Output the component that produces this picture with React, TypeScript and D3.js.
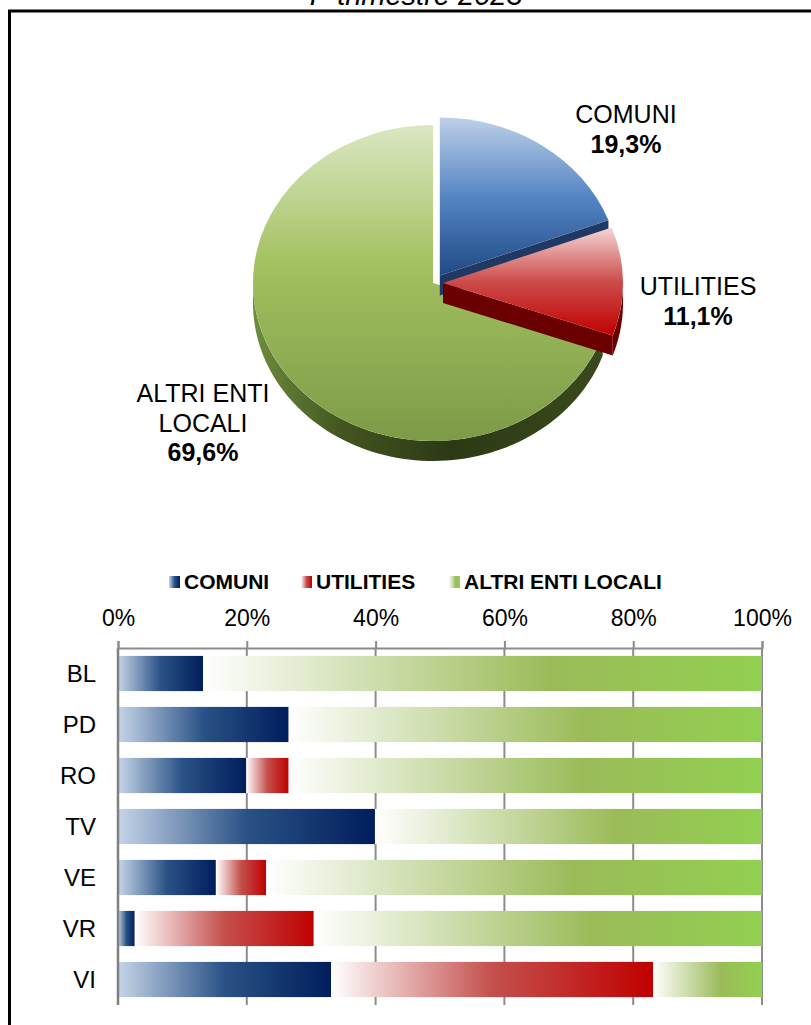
import React, { useEffect, useRef } from 'react';
import * as d3 from 'd3';

// pie: share by type of local entity
const pieLabels = ['COMUNI', 'UTILITIES', 'ALTRI ENTI LOCALI'];
const pieLabelLines = [['COMUNI'], ['UTILITIES'], ['ALTRI ENTI', 'LOCALI']];
const pieValues = [19.3, 11.1, 69.6];

// bars: breakdown per province (%)
const categories = ['BL', 'PD', 'RO', 'TV', 'VE', 'VR', 'VI'];
const comuni = [13.2, 26.5, 19.9, 39.9, 15.2, 2.6, 33.1];
const utilities = [0, 0, 6.6, 0, 7.8, 27.8, 50.0];
const altri = [86.8, 73.5, 73.5, 60.1, 77.0, 69.6, 16.9];
const xTicks = [0, 20, 40, 60, 80, 100];

const FONT = "'Liberation Sans', Arial, sans-serif";

const App: React.FC = () => {
  const svgRef = useRef<SVGSVGElement>(null);

  useEffect(() => {
    if (!svgRef.current) return;
    const svg = d3.select(svgRef.current);
    svg.selectAll('*').remove();

    const defs = svg.append('defs');
    const grad = (id: string, stops: [number, string][], vertical = false) => {
      const g = defs.append('linearGradient').attr('id', id)
        .attr('x1', 0).attr('y1', 0)
        .attr('x2', vertical ? 0 : 1).attr('y2', vertical ? 1 : 0);
      stops.forEach(([o, c]) => g.append('stop').attr('offset', o).attr('stop-color', c));
    };
    // bar fills
    grad('bComuni', [[0, '#c6d5e8'], [0.5, '#2a5286'], [1, '#001d5c']]);
    grad('bUtil', [[0, '#ffffff'], [0.5, '#c4504d'], [1, '#c00000']]);
    grad('bAltri', [[0, '#ffffff'], [0.62, '#9bbb59'], [1, '#92d050']]);
    // pie top faces
    grad('pComuni', [[0, '#bdd0e8'], [0.5, '#5585c4'], [1, '#204a84']], true);
    grad('pUtil', [[0, '#f4d6d6'], [0.5, '#cc4c4a'], [1, '#c00000']], true);
    grad('pAltri', [[0, '#dbe7c2'], [0.45, '#a2c05f'], [1, '#7d9b47']], true);
    // pie side
    const side = defs.append('linearGradient').attr('id', 'pSide')
      .attr('gradientUnits', 'userSpaceOnUse').attr('x1', 250).attr('x2', 615).attr('y1', 0).attr('y2', 0);
    [[0, '#6f8f3f'], [0.25, '#43561f'], [0.55, '#2c3915'], [1, '#3b4b1d']]
      .forEach(([o, c]) => side.append('stop').attr('offset', o as number).attr('stop-color', c as string));

    // frame + title (title is cut by the top edge, as in the source)
    svg.append('text')
      .attr('x', 416).attr('y', 5)
      .attr('text-anchor', 'middle')
      .style('font', `italic 29px ${FONT}`)
      .text('I° trimestre 2023');
    svg.append('rect')
      .attr('x', 9.5).attr('y', 11).attr('width', 900).attr('height', 1100)
      .attr('fill', 'none').attr('stroke', '#000').attr('stroke-width', 3);

    // ---------- 3D pie ----------
    const cx = 433, cy = 283, rx = 180, ry = 158, depth = 20;
    const explode = [12, 10, 0];
    const topFill = ['url(#pComuni)', 'url(#pUtil)', 'url(#pAltri)'];
    const wallFill = ['#1f3864', '#6a0000', '#3b4b1d'];

    const arcs = d3.pie<number>().sort(null).value(d => d)(pieValues);
    const offs = arcs.map((a, i) => {
      const mid = (a.startAngle + a.endAngle) / 2;
      return [explode[i] * Math.sin(mid), -explode[i] * Math.cos(mid) * 0.75];
    });
    const pt = (a: number, ox: number, oy: number, dz = 0): [number, number] =>
      [cx + ox + rx * Math.sin(a), cy + oy - ry * Math.cos(a) + dz];
    const line = d3.line();

    const rim = (a1: number, a2: number, ox: number, oy: number) => {
      const lo = Math.max(a1, Math.PI / 2), hi = Math.min(a2, 1.5 * Math.PI);
      if (hi <= lo) return null;
      const n = 80;
      const top = d3.range(n + 1).map(k => pt(lo + (hi - lo) * k / n, ox, oy));
      const bot = d3.range(n + 1).map(k => pt(hi - (hi - lo) * k / n, ox, oy, depth));
      return line([...top, ...bot]) + 'Z';
    };
    const wall = (a: number, ox: number, oy: number) => {
      const c: [number, number] = [cx + ox, cy + oy];
      return line([c, pt(a, ox, oy), pt(a, ox, oy, depth), [c[0], c[1] + depth]]) + 'Z';
    };

    const pieArc = d3.arc<d3.PieArcDatum<number>>().innerRadius(0).outerRadius(rx);
    const pg = svg.append('g');
    // draw order: big slice, then comuni, then utilities
    [2, 0, 1].forEach(i => {
      const a = arcs[i];
      const [ox, oy] = offs[i];
      const r = rim(a.startAngle, a.endAngle, ox, oy);
      if (i === 2) {
        if (r) pg.append('path').attr('d', r).attr('fill', 'url(#pSide)');
      } else {
        pg.append('path').attr('d', wall(a.endAngle, ox, oy)).attr('fill', wallFill[i]);
        if (r) pg.append('path').attr('d', r).attr('fill', wallFill[i]);
      }
      pg.append('path')
        .attr('d', pieArc(a) as string)
        .attr('transform', `translate(${cx + ox},${cy + oy}) scale(1,${ry / rx})`)
        .attr('fill', topFill[i]);
    });

    const labelPos = [[626, 123], [698, 295], [203, 402]];
    arcs.forEach((a, i) => {
      const t = svg.append('text')
        .attr('text-anchor', 'middle')
        .style('font-family', FONT).style('font-size', '25px');
      const lines = pieLabelLines[i];
      lines.forEach((l, k) => t.append('tspan')
        .attr('x', labelPos[i][0]).attr('y', labelPos[i][1] + k * 29.5).text(l));
      t.append('tspan')
        .attr('x', labelPos[i][0]).attr('y', labelPos[i][1] + lines.length * 29.5)
        .style('font-weight', 'bold')
        .text(d3.format('.1f')(a.data).replace('.', ',') + '%');
    });

    // ---------- stacked bars ----------
    const x = d3.scaleLinear().domain([0, 100]).range([118, 762]);
    const y = d3.scaleBand().domain(categories).range([648, 1005]).paddingInner(0.31).paddingOuter(0.155);
    const rows = categories.map((c, i) => ({ cat: c, comuni: comuni[i], utilities: utilities[i], altri: altri[i] }));
    const keys = ['comuni', 'utilities', 'altri'];
    const barFill: Record<string, string> = { comuni: 'url(#bComuni)', utilities: 'url(#bUtil)', altri: 'url(#bAltri)' };
    const series = d3.stack<any>().keys(keys)(rows);

    const bg = svg.append('g');
    // gridlines
    bg.selectAll('line.grid').data(xTicks.slice(1)).join('line')
      .attr('x1', d => x(d)).attr('x2', d => x(d))
      .attr('y1', 648).attr('y2', 1005)
      .attr('stroke', '#8c8c8c').attr('stroke-width', 2);

    series.forEach(s => {
      bg.append('g').selectAll('rect')
        .data(s.filter(d => d[1] - d[0] > 0))
        .join('rect')
        .attr('x', d => x(d[0]))
        .attr('width', d => x(d[1]) - x(d[0]))
        .attr('y', d => y(d.data.cat) as number)
        .attr('height', y.bandwidth())
        .attr('fill', barFill[s.key]);
    });

    // left axis line
    bg.append('line').attr('x1', x(0)).attr('x2', x(0)).attr('y1', 648).attr('y2', 1005)
      .attr('stroke', '#808080').attr('stroke-width', 2.5);

    const ax = svg.append('g').attr('transform', 'translate(0,648)')
      .call(d3.axisTop(x).tickValues(xTicks).tickFormat(d => `${d}%`).tickSize(7).tickSizeOuter(7).tickPadding(15));
    ax.select('.domain').attr('stroke', '#8c8c8c').attr('stroke-width', 2);
    ax.selectAll('.tick line').attr('stroke', '#8c8c8c').attr('stroke-width', 2);
    ax.selectAll('.tick text').attr('fill', '#000').style('font-family', FONT).style('font-size', '23px');

    svg.append('g').selectAll('text').data(categories).join('text')
      .attr('x', 96).attr('y', d => (y(d) as number) + y.bandwidth() / 2)
      .attr('dy', '0.36em').attr('text-anchor', 'end')
      .style('font-family', FONT).style('font-size', '24px')
      .text(d => d);

    // legend
    const legendX = [169, 301, 449];
    const lg = svg.append('g');
    keys.forEach((k, i) => {
      lg.append('rect').attr('x', legendX[i]).attr('y', 576).attr('width', 11).attr('height', 12)
        .attr('fill', barFill[k]);
      lg.append('text').attr('x', legendX[i] + 15).attr('y', 588.5)
        .style('font-family', FONT).style('font-size', '21px').style('font-weight', 'bold')
        .text(pieLabels[i]);
    });
  }, []);

  return (
    <svg ref={svgRef} width={811} height={1025}
      style={{ position: 'absolute', left: 0, top: 0, background: '#fff' }} />
  );
};

export default App;
